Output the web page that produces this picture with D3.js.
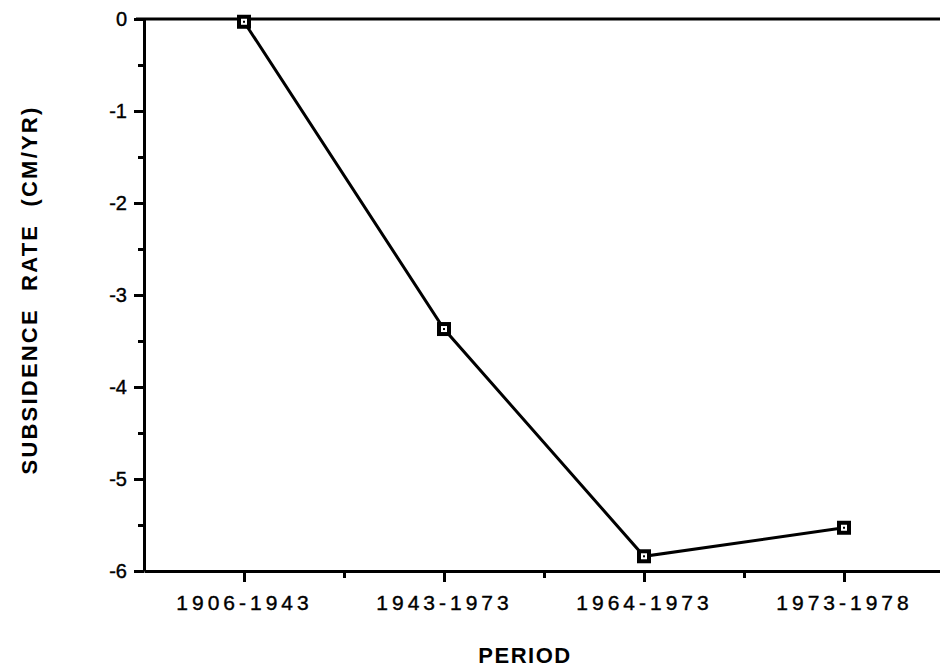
<!DOCTYPE html>
<meta charset="utf-8">
<title>Subsidence rate by period</title>
<style>
  body { margin: 0; background: #fff; }
  text { font-family: "Liberation Sans", Arial, sans-serif; fill: #000; }
</style>
<body>
<script src="https://d3js.org/d3.v7.min.js"></script>
<script>

var width = 940,
    height = 672;

// data
var periods = ["1906-1943", "1943-1973", "1964-1973", "1973-1978"];
var rates = [-0.03, -3.37, -5.84, -5.53];
var yTicks = [0, -1, -2, -3, -4, -5, -6];
var yMinor = [-0.5, -1.5, -2.5, -3.5, -4.5, -5.5];
var xMinor = [0.5, 1.5, 2.5];

var svg = d3.select("body").append("svg")
  .attr("width", width)
  .attr("height", height);

// category index -> x; the frame runs off the right edge like the scan
var x = d3.scaleLinear()
  .domain([-0.5, 3.5])
  .range([144, 944]);

var y = d3.scaleLinear()
  .domain([-6, 0])
  .range([571, 19]);

// y axis, major + minor ticks
var yAxis = svg.append("g")
  .attr("transform", "translate(" + x(-0.5) + ",0)")
  .call(d3.axisLeft(y)
    .tickValues(yTicks)
    .tickFormat(function (d) { return String(d); })
    .tickSize(10)
    .tickSizeOuter(0)
    .tickPadding(7));

svg.append("g")
  .attr("transform", "translate(" + x(-0.5) + ",0)")
  .call(d3.axisLeft(y).tickValues(yMinor).tickFormat("").tickSize(6).tickSizeOuter(0))
  .select(".domain").remove();

// x axis along the bottom
var xAxis = svg.append("g")
  .attr("transform", "translate(0," + y(-6) + ")")
  .call(d3.axisBottom(x)
    .tickValues(d3.range(periods.length))
    .tickFormat(function (i) { return periods[i]; })
    .tickSize(11)
    .tickSizeOuter(0)
    .tickPadding(13));

svg.append("g")
  .attr("transform", "translate(0," + y(-6) + ")")
  .call(d3.axisBottom(x).tickValues(xMinor).tickFormat("").tickSize(7).tickSizeOuter(0))
  .select(".domain").remove();

svg.selectAll(".domain, .tick line")
  .attr("stroke", "#000")
  .attr("stroke-width", 3);

yAxis.selectAll("text")
  .style("font-size", "20px")
  .attr("stroke", "#000")
  .attr("stroke-width", 0.4);

xAxis.selectAll("text")
  .style("font-size", "21px")
  .style("letter-spacing", "4px")
  .attr("stroke", "#000")
  .attr("stroke-width", 0.4);

// zero line across the top
svg.append("line")
  .attr("x1", x(-0.5) - 8)
  .attr("x2", width)
  .attr("y1", y(0))
  .attr("y2", y(0))
  .attr("stroke", "#000")
  .attr("stroke-width", 3.2);

// data line
var line = d3.line()
  .x(function (d, i) { return x(i); })
  .y(function (d) { return y(d); });

svg.append("path")
  .datum(rates)
  .attr("d", line)
  .attr("fill", "none")
  .attr("stroke", "#000")
  .attr("stroke-width", 3);

// square markers with a dot in the middle
var marker = svg.selectAll("g.marker")
  .data(rates)
  .enter().append("g")
  .attr("class", "marker")
  .attr("transform", function (d, i) { return "translate(" + x(i) + "," + y(d) + ")"; });

marker.append("rect")
  .attr("x", -5)
  .attr("y", -5)
  .attr("width", 10)
  .attr("height", 10)
  .attr("fill", "#fff")
  .attr("stroke", "#000")
  .attr("stroke-width", 4);

marker.append("rect")
  .attr("x", -1)
  .attr("y", -1)
  .attr("width", 2)
  .attr("height", 2)
  .attr("fill", "#000");

// axis titles
svg.append("text")
  .attr("x", 525)
  .attr("y", 663)
  .attr("text-anchor", "middle")
  .style("font-size", "22px")
  .style("font-weight", "bold")
  .style("letter-spacing", "1.5px")
  .text("PERIOD");

svg.append("text")
  .attr("transform", "translate(37,290) rotate(-90)")
  .attr("text-anchor", "middle")
  .style("font-size", "22px")
  .style("font-weight", "bold")
  .style("letter-spacing", "2.2px")
  .style("word-spacing", "9px")
  .text("SUBSIDENCE RATE (CM/YR)");

</script>
</body>
</html>
